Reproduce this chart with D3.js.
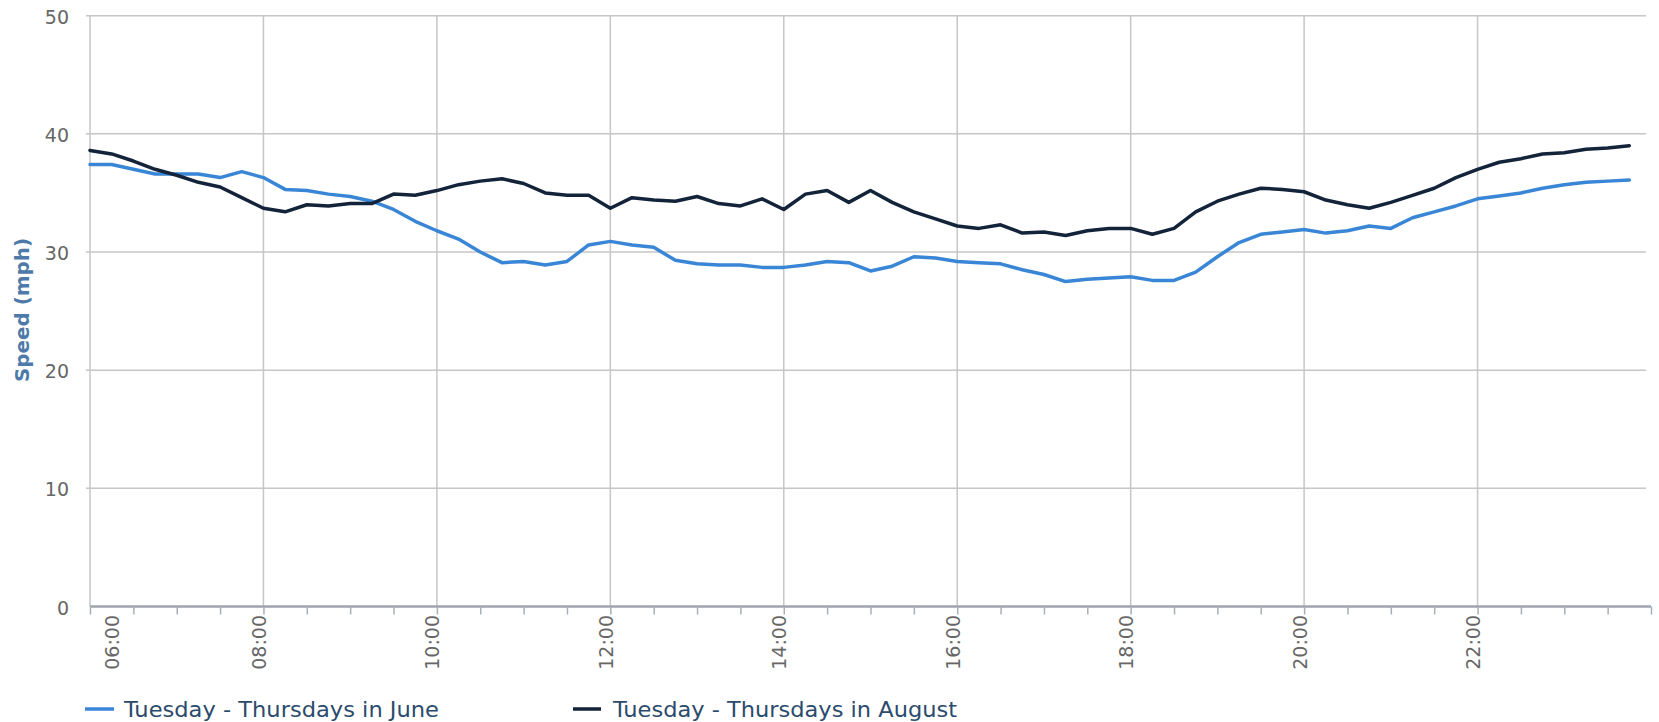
<!DOCTYPE html>
<html>
<head>
<meta charset="utf-8">
<script src="https://cdn.jsdelivr.net/npm/d3@7"></script>
<style>
  html, body { margin: 0; padding: 0; background: #ffffff; }
  svg { display: block; }
</style>
</head>
<body>
<svg id="chart" width="1659" height="722"></svg>
<script>
// ---------------- DATA ----------------
const times = [
  "06:00","06:15","06:30","06:45","07:00","07:15","07:30","07:45",
  "08:00","08:15","08:30","08:45","09:00","09:15","09:30","09:45",
  "10:00","10:15","10:30","10:45","11:00","11:15","11:30","11:45",
  "12:00","12:15","12:30","12:45","13:00","13:15","13:30","13:45",
  "14:00","14:15","14:30","14:45","15:00","15:15","15:30","15:45",
  "16:00","16:15","16:30","16:45","17:00","17:15","17:30","17:45",
  "18:00","18:15","18:30","18:45","19:00","19:15","19:30","19:45",
  "20:00","20:15","20:30","20:45","21:00","21:15","21:30","21:45",
  "22:00","22:15","22:30","22:45","23:00","23:15","23:30","23:45"
];

const juneSpeeds = [
  37.4, 37.4, 37.0, 36.6, 36.6, 36.6, 36.3, 36.8,
  36.3, 35.3, 35.2, 34.9, 34.7, 34.3, 33.6, 32.6,
  31.8, 31.1, 30.0, 29.1, 29.2, 28.9, 29.2, 30.6,
  30.9, 30.6, 30.4, 29.3, 29.0, 28.9, 28.9, 28.7,
  28.7, 28.9, 29.2, 29.1, 28.4, 28.8, 29.6, 29.5,
  29.2, 29.1, 29.0, 28.5, 28.1, 27.5, 27.7, 27.8,
  27.9, 27.6, 27.6, 28.3, 29.6, 30.8, 31.5, 31.7,
  31.9, 31.6, 31.8, 32.2, 32.0, 32.9, 33.4, 33.9,
  34.5, 34.75, 35.0, 35.4, 35.7, 35.9, 36.0, 36.1
];

const augustSpeeds = [
  38.6, 38.3, 37.7, 37.0, 36.5, 35.9, 35.5, 34.6,
  33.7, 33.4, 34.0, 33.9, 34.1, 34.1, 34.9, 34.8,
  35.2, 35.7, 36.0, 36.2, 35.8, 35.0, 34.8, 34.8,
  33.7, 34.6, 34.4, 34.3, 34.7, 34.1, 33.9, 34.5,
  33.6, 34.9, 35.2, 34.2, 35.2, 34.2, 33.4, 32.8,
  32.2, 32.0, 32.3, 31.6, 31.7, 31.4, 31.8, 32.0,
  32.0, 31.5, 32.0, 33.4, 34.3, 34.9, 35.4, 35.3,
  35.1, 34.4, 34.0, 33.7, 34.2, 34.8, 35.4, 36.3,
  37.0, 37.6, 37.9, 38.3, 38.4, 38.7, 38.8, 39.0
];

const seriesNames = ["Tuesday - Thursdays in June", "Tuesday - Thursdays in August"];
const seriesColors = ["#3a86d6", "#13233a"];

const xLabelTicks = ["06:00","08:00","10:00","12:00","14:00","16:00","18:00","20:00","22:00"];
const xMinorTicks = [
  "06:00","06:30","07:00","07:30","08:00","08:30","09:00","09:30","10:00","10:30",
  "11:00","11:30","12:00","12:30","13:00","13:30","14:00","14:30","15:00","15:30",
  "16:00","16:30","17:00","17:30","18:00","18:30","19:00","19:30","20:00","20:30",
  "21:00","21:30","22:00","22:30","23:00","23:30","24:00"
];
const yTicks = [0, 10, 20, 30, 40, 50];
const yTitle = "Speed (mph)";

// ---------------- DRAWING ----------------
(function () {
  const toHours = s => { const p = s.split(":"); return +p[0] + (+p[1]) / 60; };

  const svg = d3.select("#chart");
  const pL = 90, pR = 1651, pT = 15.7, pB = 606.5;
  const gridRight = 1646;

  const x = d3.scaleLinear().domain([6, 24]).range([pL, pR]);
  const y = d3.scaleLinear().domain([0, 50]).range([pB, pT]);

  const FONT = "'DejaVu Sans', Verdana, sans-serif";

  // horizontal grid lines
  svg.append("g").selectAll("line").data(yTicks.filter(d => d > 0)).join("line")
    .attr("x1", 86).attr("x2", gridRight)
    .attr("y1", d => y(d)).attr("y2", d => y(d))
    .attr("stroke", "#c6c6c6").attr("stroke-width", 1.5);

  // vertical grid lines
  svg.append("g").selectAll("line").data(xLabelTicks).join("line")
    .attr("x1", d => x(toHours(d))).attr("x2", d => x(toHours(d)))
    .attr("y1", pT).attr("y2", pB)
    .attr("stroke", "#c6c6c6").attr("stroke-width", 1.5);

  // y axis labels
  const yAxis = svg.append("g")
    .attr("transform", "translate(69,0)")
    .call(d3.axisLeft(y).tickValues(yTicks).tickSize(0).tickPadding(0));
  yAxis.select(".domain").remove();
  yAxis.selectAll("text")
    .attr("dy", "0.4em")
    .style("font-family", FONT).style("font-size", "19px").attr("fill", "#666666");

  // y title
  svg.append("text")
    .attr("transform", `translate(29,310) rotate(-90)`)
    .attr("text-anchor", "middle")
    .attr("font-size", 20)
    .attr("textLength", 144).attr("lengthAdjust", "spacingAndGlyphs")
    .style("font-family", FONT).style("font-size", "20px").style("font-weight", "bold")
    .attr("fill", "#4d7aa8")
    .text(yTitle);

  // x axis ticks (half-hourly)
  const xAxis = svg.append("g")
    .attr("transform", `translate(0,${pB})`)
    .call(d3.axisBottom(x).tickValues(xMinorTicks.map(toHours)).tickSize(8).tickFormat(""));
  xAxis.select(".domain")
    .attr("d", `M${pL},0H${pR}`)
    .attr("stroke", "#9ea5ad").attr("stroke-width", 2.5);
  xAxis.selectAll(".tick line").attr("stroke", "#a8afb7").attr("stroke-width", 1.5);

  // x axis labels (two-hourly, rotated)
  const xLab = svg.append("g")
    .attr("transform", `translate(0,${pB})`)
    .call(d3.axisBottom(x).tickValues(xLabelTicks.map(toHours)).tickSize(0)
      .tickFormat((d, i) => xLabelTicks[i]));
  xLab.select(".domain").remove();
  xLab.selectAll("text")
    .attr("transform", "rotate(-90)")
    .attr("text-anchor", "end")
    .attr("x", -8.5)
    .attr("y", (d, i) => i === 0 ? 28 : 2)
    .attr("dy", 0)
    .style("font-family", FONT).style("font-size", "19px").attr("fill", "#666666");

  // series lines
  const line = d3.line()
    .x((d, i) => x(toHours(times[i])))
    .y(d => y(d));

  [juneSpeeds, augustSpeeds].forEach((vals, k) => {
    svg.append("path")
      .datum(vals)
      .attr("d", line)
      .attr("fill", "none")
      .attr("stroke", seriesColors[k])
      .attr("stroke-width", 3.5)
      .attr("stroke-linejoin", "round")
      .attr("stroke-linecap", "round");
  });

  // legend
  const legendItems = [
    { sx1: 85, sx2: 114, tx: 124, len: 315 },
    { sx1: 573, sx2: 601, tx: 613, len: 344 }
  ];
  const lg = svg.append("g");
  legendItems.forEach((it, k) => {
    lg.append("line")
      .attr("x1", it.sx1).attr("x2", it.sx2)
      .attr("y1", 709).attr("y2", 709)
      .attr("stroke", seriesColors[k]).attr("stroke-width", 3.5);
    lg.append("text")
      .attr("x", it.tx).attr("y", 716.5)
      .attr("textLength", it.len).attr("lengthAdjust", "spacingAndGlyphs")
      .style("font-family", FONT).style("font-size", "21px")
      .attr("fill", "#2b4b6c")
      .text(seriesNames[k]);
  });
})();
</script>
</body>
</html>
